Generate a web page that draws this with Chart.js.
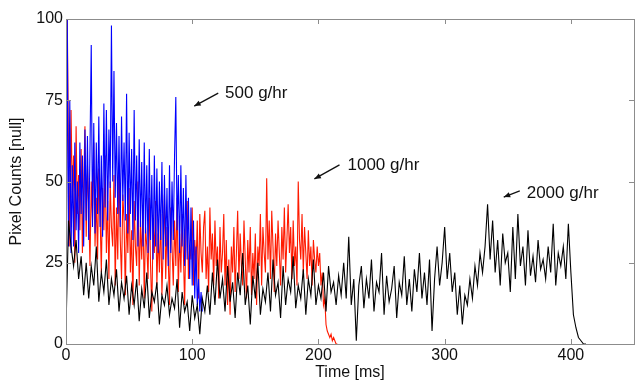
<!DOCTYPE html>
<html>
<head>
<meta charset="utf-8">
<script src="https://cdn.jsdelivr.net/npm/chart.js@4.4.1/dist/chart.umd.min.js"></script>
<style>
  html, body { margin: 0; padding: 0; background: #fff; }
  #chart { display: block; }
</style>
</head>
<body>
<canvas id="chart" width="639" height="380"></canvas>
<script>
// sample spacing (ms) for each recording
const blueStep = 1;
const redStep = 1;
const blackStep = 2;

// 500 g/hr, one value per ms from 0 ms
const blueCounts = [
  5, 100, 30, 75, 28, 55, 30, 62, 35, 50,
  28, 62, 40, 58, 30, 66, 38, 64, 32, 60,
  92, 36, 68, 34, 62, 40, 70, 36, 58, 33,
  74, 42, 72, 38, 66, 48, 98, 50, 84, 45,
  68, 40, 64, 36, 70, 44, 62, 38, 77, 34,
  65, 40, 60, 32, 72, 38, 58, 30, 63, 36,
  56, 30, 62, 34, 55, 28, 60, 32, 52, 26,
  58, 30, 54, 28, 50, 32, 56, 26, 52, 30,
  48, 24, 55, 28, 50, 32, 58, 76, 35, 52,
  28, 55, 30, 48, 24, 52, 26, 45, 20, 42,
  18, 38, 14, 30, 12, 20, 10, 16, 10
];

// 1000 g/hr, one value per ms from 0 ms
const redCounts = [
  0, 100, 60, 30, 72, 45, 58, 25, 67, 40,
  52, 35, 60, 28, 48, 67, 33, 55, 42, 24,
  50, 38, 62, 30, 45, 26, 54, 40, 22, 48,
  35, 58, 28, 44, 20, 50, 36, 30, 52, 18,
  42, 26, 55, 32, 20, 46, 38, 15, 40, 28,
  48, 22, 35, 12, 44, 30, 24, 50, 18, 38,
  26, 42, 14, 36, 30, 20, 45, 24, 10, 38,
  28, 44, 18, 34, 22, 40, 15, 30, 46, 20,
  36, 26, 12, 42, 30, 18, 38, 24, 45, 16,
  34, 22, 40, 28, 12, 36, 44, 20, 30, 26,
  42, 18, 32, 24, 38, 14, 40, 28, 22, 36,
  41, 20, 30, 16, 42, 26, 34, 18, 38, 24,
  30, 14, 36, 22, 28, 40, 18, 32, 12, 26,
  9, 30, 22, 36, 16, 28, 41, 20, 34, 24,
  18, 38, 26, 14, 32, 22, 36, 15, 28, 20,
  34, 12, 30, 24, 40, 18, 36, 28, 22, 51,
  26, 38, 20, 41, 30, 16, 34, 24, 38, 28,
  18, 36, 26, 42, 22, 32, 43, 28, 36, 20,
  38, 24, 30, 18, 50, 32, 26, 40, 22, 36,
  28, 20, 35, 24, 30, 18, 32, 26, 22, 30,
  24, 28, 18, 22, 12, 14, 6, 4, 3, 2,
  3, 1, 2, 1, 0, 0
];

// 2000 g/hr, one value per 2 ms from 0 ms
const blackCounts = [
  5, 38, 30, 24, 32, 20, 27, 15, 25, 14,
  24, 18, 30, 13, 22, 16, 26, 12, 20, 15,
  23, 10, 19, 14, 21, 9, 18, 12, 20, 7,
  17, 11, 22, 8, 16, 13, 19, 6, 15, 12,
  18, 9, 14, 11, 20, 5, 16, 10, 13, 4,
  15, 8, 12, 3, 14, 10, 18, 9, 22, 12,
  26, 14, 20, 10, 24, 13, 19, 8, 22, 15,
  28, 12, 18, 6, 21, 14, 25, 9, 17, 13,
  22, 10, 26, 15, 19, 8, 24, 12, 20, 16,
  27, 11, 18, 14, 23, 9, 20, 15, 26, 12,
  18, 14, 22, 10, 24, 16, 19, 12, 21, 15,
  25, 14, 33, 12, 20, 1, 18, 24, 11, 20,
  14, 26, 10, 19, 16, 28, 9, 21, 13, 17,
  24, 8, 19, 15, 27, 12, 20, 10, 23, 16,
  28, 14, 22, 12, 26, 4, 20, 30, 18, 25,
  36, 20, 28, 16, 22, 9, 18, 6, 15, 12,
  20, 14, 24, 18, 28, 22, 30, 43, 26, 38,
  22, 32, 18, 34, 25, 28, 16, 36, 20, 40,
  24, 30, 18, 35, 21, 27, 19, 32, 23, 26,
  20, 30, 22, 37, 18, 28, 24, 30, 20, 37,
  22, 9, 5, 2, 1, 0, 0
];

const xTicks = [0, 100, 200, 300, 400];
const yTicks = [0, 25, 50, 75, 100];

const labels = [
  { text: '500 g/hr', x: 126, y: 77, from: [120.6, 77.2], to: [101.6, 73.2] },
  { text: '1000 g/hr', x: 223, y: 55, from: [216.7, 55.1], to: [196.8, 50.8] },
  { text: '2000 g/hr', x: 365, y: 46.5, from: [359.5, 47.1], to: [346.8, 45.2] }
];

function toPoints(values, step) {
  return values.map((v, i) => ({ x: i * step, y: v }));
}

const fontFamily = '"Liberation Sans", Arial, sans-serif';

// MATLAB style box with inward ticks on all four sides, plus arrow labels
const boxPlugin = {
  id: 'box',
  afterDatasetsDraw(chart) {
    const ctx = chart.ctx;
    const a = chart.chartArea;
    const xs = chart.scales.x;
    const ys = chart.scales.y;
    ctx.save();
    ctx.strokeStyle = '#8c8c8c';
    ctx.lineWidth = 1;
    ctx.strokeRect(a.left + 0.5, a.top + 0.5, a.right - a.left, a.bottom - a.top);
    ctx.beginPath();
    xTicks.forEach(t => {
      const px = Math.round(xs.getPixelForValue(t)) + 0.5;
      ctx.moveTo(px, a.bottom); ctx.lineTo(px, a.bottom - 5);
      ctx.moveTo(px, a.top); ctx.lineTo(px, a.top + 5);
    });
    yTicks.forEach(t => {
      const py = Math.round(ys.getPixelForValue(t)) + 0.5;
      ctx.moveTo(a.left, py); ctx.lineTo(a.left + 5, py);
      ctx.moveTo(a.right, py); ctx.lineTo(a.right - 5, py);
    });
    ctx.stroke();

    ctx.fillStyle = '#111';
    ctx.strokeStyle = '#111';
    ctx.font = '17px ' + fontFamily;
    ctx.textBaseline = 'middle';
    labels.forEach(l => {
      ctx.fillText(l.text, xs.getPixelForValue(l.x), ys.getPixelForValue(l.y));
      const x1 = xs.getPixelForValue(l.from[0]), y1 = ys.getPixelForValue(l.from[1]);
      const x2 = xs.getPixelForValue(l.to[0]), y2 = ys.getPixelForValue(l.to[1]);
      const ang = Math.atan2(y2 - y1, x2 - x1);
      ctx.lineWidth = 1.3;
      ctx.beginPath();
      ctx.moveTo(x1, y1); ctx.lineTo(x2, y2);
      ctx.stroke();
      ctx.beginPath();
      ctx.moveTo(x2, y2);
      ctx.lineTo(x2 - 7 * Math.cos(ang - 0.4), y2 - 7 * Math.sin(ang - 0.4));
      ctx.lineTo(x2 - 7 * Math.cos(ang + 0.4), y2 - 7 * Math.sin(ang + 0.4));
      ctx.closePath();
      ctx.fill();
    });
    ctx.restore();
  }
};

new Chart(document.getElementById('chart').getContext('2d'), {
  type: 'line',
  data: {
    datasets: [
      { label: '1000 g/hr', data: toPoints(redCounts, redStep), borderColor: '#ff1a00', order: 3 },
      { label: '500 g/hr', data: toPoints(blueCounts, blueStep), borderColor: '#0000ff', order: 2 },
      { label: '2000 g/hr', data: toPoints(blackCounts, blackStep), borderColor: '#000000', order: 1 }
    ]
  },
  options: {
    responsive: false,
    animation: false,
    parsing: false,
    layout: { padding: { left: 0, top: 19, right: 5, bottom: 0 } },
    elements: {
      line: { borderWidth: 1.1, tension: 0, fill: false },
      point: { radius: 0, hoverRadius: 0 }
    },
    plugins: {
      legend: { display: false },
      tooltip: { enabled: false }
    },
    scales: {
      x: {
        type: 'linear',
        min: 0,
        max: 450,
        grid: { display: false, drawTicks: false },
        border: { display: false },
        afterBuildTicks: s => { s.ticks = xTicks.map(v => ({ value: v })); },
        afterFit: s => { s.height = 36; },
        ticks: { padding: 2, color: '#111', font: { family: fontFamily, size: 16 } },
        title: { display: true, text: 'Time [ms]', color: '#111', padding: { top: 0, bottom: -2 }, font: { family: fontFamily, size: 16 } }
      },
      y: {
        min: 0,
        max: 100,
        grid: { display: false, drawTicks: false },
        border: { display: false },
        afterBuildTicks: s => { s.ticks = yTicks.map(v => ({ value: v })); },
        afterFit: s => { s.width = 66; },
        ticks: { padding: 3, color: '#111', font: { family: fontFamily, size: 16 } },
        title: { display: true, text: 'Pixel Counts [null]', color: '#111', padding: { top: 7 }, font: { family: fontFamily, size: 16 } }
      }
    }
  },
  plugins: [boxPlugin]
});
</script>
</body>
</html>
